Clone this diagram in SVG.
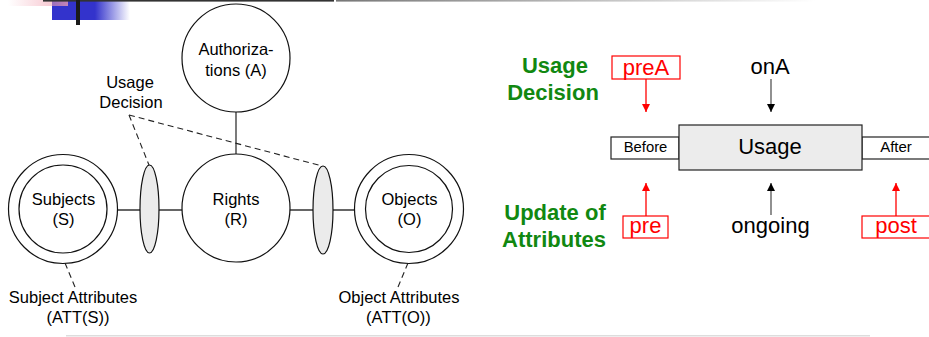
<svg xmlns="http://www.w3.org/2000/svg" width="929" height="337" viewBox="0 0 929 337">
  <style>
    text { font-family: "Liberation Sans", Arial, sans-serif; }
    .lbl { font-size: 16.5px; fill: #000; text-anchor: middle; }
    .node { fill: #fff; stroke: #111; stroke-width: 1.2; }
    .gate { fill: #ebebeb; stroke: #111; stroke-width: 1.2; }
    .link { stroke: #333; stroke-width: 1.3; fill: none; }
    .dash { stroke: #222; stroke-width: 1.1; fill: none; stroke-dasharray: 6 4; }
    .green { font-size: 22px; font-weight: bold; fill: #118811; text-anchor: middle; }
    .big { font-size: 22px; text-anchor: middle; }
    .red { fill: #ff0000; }
    .redbox { fill: #fff; stroke: #ff0000; stroke-width: 1.2; }
    .box { fill: #fff; stroke: #222; stroke-width: 1.2; }
    .arr-red { stroke: #ff0000; stroke-width: 1.3; fill: none; marker-end: url(#headRed); }
    .arr-blk { stroke: #555; stroke-width: 1.3; fill: none; marker-end: url(#headBlk); }
  </style>
  <defs>
    <marker id="headRed" viewBox="0 0 10 10" refX="10" refY="5" markerWidth="8" markerHeight="8" markerUnits="userSpaceOnUse" orient="auto">
      <path d="M0,0 L10,5 L0,10 Z" fill="#ff0000"/>
    </marker>
    <marker id="headBlk" viewBox="0 0 10 10" refX="10" refY="5" markerWidth="8" markerHeight="8" markerUnits="userSpaceOnUse" orient="auto">
      <path d="M0,0 L10,5 L0,10 Z" fill="#000"/>
    </marker>
    <linearGradient id="blueFade" x1="0" y1="0" x2="1" y2="0">
      <stop offset="0" stop-color="#3333cc"/>
      <stop offset="0.55" stop-color="#3333cc"/>
      <stop offset="1" stop-color="#3333cc" stop-opacity="0"/>
    </linearGradient>
    <linearGradient id="pinkFade" x1="0" y1="0" x2="1" y2="0">
      <stop offset="0" stop-color="#f2a0b0" stop-opacity="0"/>
      <stop offset="1" stop-color="#f2a0b0" stop-opacity="0.75"/>
    </linearGradient>
    <linearGradient id="greyFade" x1="0" y1="0" x2="1" y2="0">
      <stop offset="0" stop-color="#777"/>
      <stop offset="1" stop-color="#fff"/>
    </linearGradient>
  </defs>

  <!-- header decoration -->
  <g id="header">
    <rect x="52" y="0" width="78" height="20" fill="url(#blueFade)"/>
    <rect x="8" y="0" width="60" height="6" fill="url(#pinkFade)"/>
    <rect x="43" y="0" width="291" height="1.6" fill="#333"/>
    <rect x="336" y="0" width="480" height="1.6" fill="url(#greyFade)"/>
    <rect x="76" y="0" width="4" height="25" fill="#1a1a1a"/>
  </g>
  <rect id="footer-rule" x="66" y="335" width="804" height="1.5" fill="#dddddd"/>

  <!-- left model: connectors -->
  <g id="connectors-left">
    <line class="link" x1="236" y1="112" x2="236" y2="155"/>
    <line class="link" x1="117" y1="210" x2="182" y2="210"/>
    <line class="link" x1="290" y1="210" x2="355" y2="210"/>
    <line class="dash" x1="129" y1="115" x2="149" y2="165"/>
    <line class="dash" x1="129" y1="115" x2="322" y2="166"/>
    <line class="dash" x1="65" y1="263" x2="75" y2="287"/>
    <line class="dash" x1="408" y1="263" x2="398" y2="287"/>
  </g>

  <g id="authorizations">
    <circle class="node" cx="236" cy="58" r="54"/>
    <text class="lbl" x="236" y="55">Authoriza-</text>
    <text class="lbl" x="236" y="76">tions (A)</text>
  </g>

  <g id="rights">
    <circle class="node" cx="236" cy="208" r="54"/>
    <text class="lbl" x="236" y="205">Rights</text>
    <text class="lbl" x="236" y="225">(R)</text>
  </g>

  <g id="subjects">
    <circle class="node" cx="63" cy="209" r="54.5"/>
    <circle class="node" cx="63" cy="209" r="44"/>
    <text class="lbl" x="63.5" y="205">Subjects</text>
    <text class="lbl" x="63.5" y="225">(S)</text>
  </g>

  <g id="objects">
    <circle class="node" cx="409" cy="209" r="54.5"/>
    <circle class="node" cx="409" cy="209" r="43.5"/>
    <text class="lbl" x="409.5" y="205">Objects</text>
    <text class="lbl" x="409.5" y="225">(O)</text>
  </g>

  <g id="decision-left">
    <ellipse class="gate" cx="149.5" cy="209" rx="9.5" ry="44"/>
  </g>
  <g id="decision-right">
    <ellipse class="gate" cx="323" cy="210" rx="10" ry="44"/>
  </g>

  <g id="usage-decision-label">
    <text class="lbl" x="130" y="88">Usage</text>
    <text class="lbl" x="131" y="108">Decision</text>
  </g>

  <g id="subject-attributes">
    <text class="lbl" x="73" y="303">Subject Attributes</text>
    <text class="lbl" x="78" y="323">(ATT(S))</text>
  </g>

  <g id="object-attributes">
    <text class="lbl" x="399" y="303">Object Attributes</text>
    <text class="lbl" x="398.5" y="323">(ATT(O))</text>
  </g>

  <!-- right model: phases -->
  <g id="row-labels">
    <text class="green" x="555" y="73">Usage</text>
    <text class="green" x="553" y="100">Decision</text>
    <text class="green" x="555" y="220">Update of</text>
    <text class="green" x="554" y="247">Attributes</text>
  </g>

  <g id="connectors-right">
    <line class="arr-red" x1="646" y1="79" x2="646" y2="112"/>
    <line class="arr-blk" x1="771" y1="79" x2="771" y2="112"/>
    <line class="arr-red" x1="646" y1="216" x2="646" y2="183"/>
    <line class="arr-blk" x1="771" y1="215" x2="771" y2="183"/>
    <line class="arr-red" x1="896" y1="216" x2="896" y2="183"/>
  </g>

  <g id="before">
    <rect class="box" x="611" y="137" width="68" height="22"/>
    <text x="645.5" y="152" font-size="14.8" text-anchor="middle">Before</text>
  </g>

  <g id="after">
    <rect class="box" x="862" y="137" width="80" height="22"/>
    <text x="896" y="152" font-size="15" text-anchor="middle">After</text>
  </g>

  <g id="usage">
    <rect x="679" y="125" width="183" height="45" fill="#ececec" stroke="#222" stroke-width="1.2"/>
    <text class="big" x="770" y="154">Usage</text>
  </g>

  <g id="preA">
    <rect class="redbox" x="612" y="56" width="68" height="23"/>
    <text class="big red" x="646" y="75">preA</text>
  </g>

  <g id="onA">
    <text class="big" x="770" y="74">onA</text>
  </g>

  <g id="pre">
    <rect class="redbox" x="623" y="216" width="45" height="22"/>
    <text class="big red" x="645.5" y="233">pre</text>
  </g>

  <g id="ongoing">
    <text class="big" x="770.5" y="233">ongoing</text>
  </g>

  <g id="post">
    <rect class="redbox" x="862" y="216" width="80" height="22"/>
    <text class="big red" x="896" y="233">post</text>
  </g>
</svg>
